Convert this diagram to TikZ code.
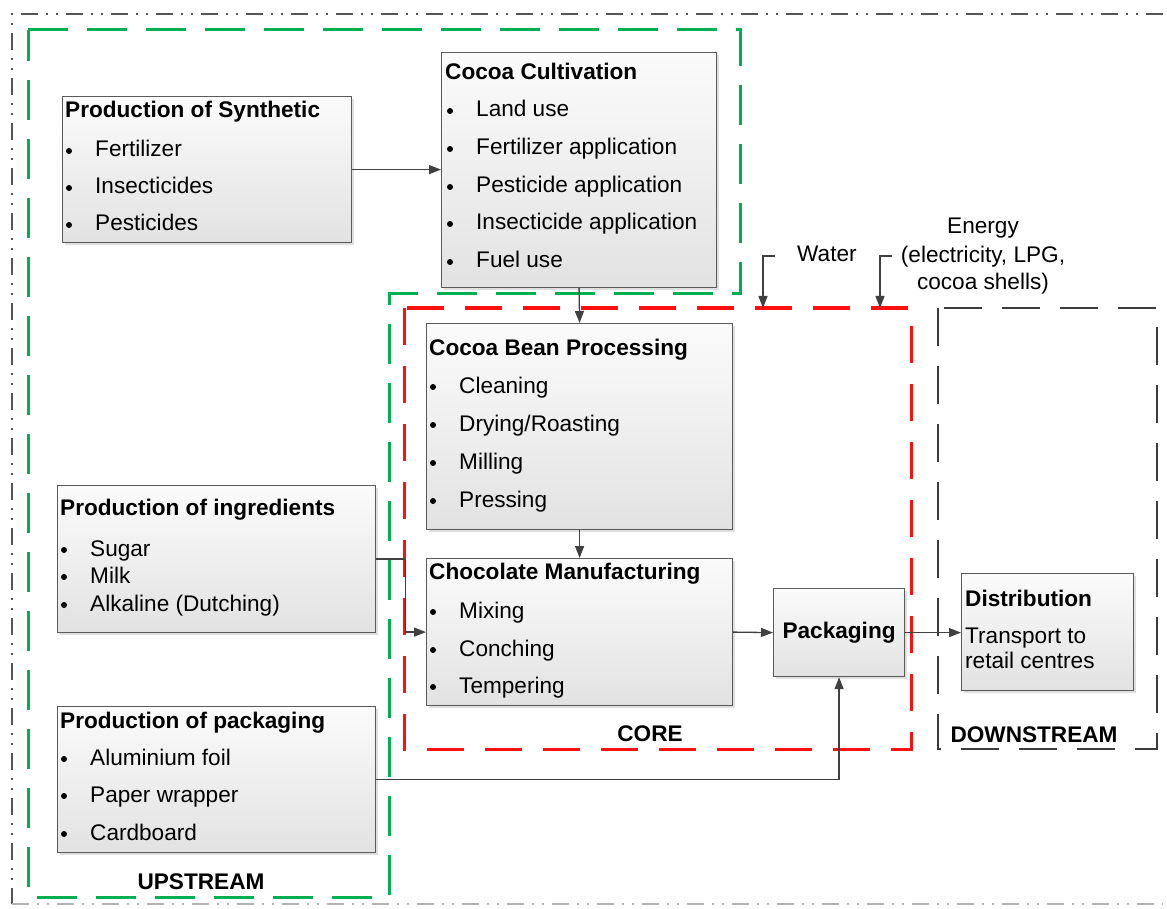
\documentclass[tikz,border=0pt]{standalone}
\usepackage{fontspec}
\setmainfont{Liberation Sans}
\usetikzlibrary{arrows.meta,shadows}
\definecolor{boxline}{HTML}{5A5A5A}
\definecolor{boxtop}{HTML}{FBFBFB}
\definecolor{boxbot}{HTML}{E2E2E2}
\definecolor{arrowc}{HTML}{404040}
\definecolor{upgreen}{HTML}{00B050}
\definecolor{corered}{HTML}{FF1010}
\definecolor{downgray}{HTML}{3C3C3C}
\definecolor{outergray}{HTML}{555555}
\tikzset{
  procbox/.style={draw=boxline, line width=1.2pt, top color=boxtop, bottom color=boxbot,
    drop shadow={shadow xshift=2pt,shadow yshift=-2pt,opacity=0.25},
    anchor=north west, inner sep=0pt},
  txt/.style={font=\fontsize{22.6}{27}\selectfont, inner sep=0pt, text=black},
  ttl/.style={font=\fontsize{22.6}{27}\selectfont\bfseries, inner sep=0pt, text=black},
  conn/.style={draw=arrowc, line width=1.3pt, -{Triangle[length=12pt,width=9pt]}},
  upline/.style={draw=upgreen, line width=3pt, dash pattern=on 40pt off 19pt},
  coreline/.style={draw=corered, line width=3pt, dash pattern=on 37pt off 21pt},
  downline/.style={draw=downgray, line width=2.6pt, dash pattern=on 38pt off 20pt},
  outerline/.style={draw=outergray, line width=1.8pt, dash pattern=on 17pt off 8pt on 2pt off 8pt on 2pt off 8pt},
}
\newcommand\bitem[4]{%
  \fill[black] (#2,#3-6) circle [radius=3pt];
  \node[txt, anchor=base west] (#1) at (#2+26,#3) {#4};}
\begin{document}
\begin{tikzpicture}[x=1pt,y=-1pt]
\useasboundingbox (0,0) rectangle (1167,909);
\fill[white] (0,0) rectangle (1167,909);

% boundaries
\draw[outerline] (1163,14) -- (12,14) -- (12,904);
\draw[outerline, draw=outergray!45] (12,904) -- (1163,904);
\draw[upline] (28,30) -- (740,30) -- (740,294) -- (389,294) -- (389,897) -- (28,897) -- cycle;
\draw[coreline] (404,308) rectangle (911,749);
\draw[downline] (938,308) rectangle (1157,749);

% boxes
\node[procbox, minimum width=289pt, minimum height=146pt] (syn) at (62,96) {};
\node[procbox, minimum width=275pt, minimum height=235pt] (cult) at (441,52) {};
\node[procbox, minimum width=306pt, minimum height=206pt] (bean) at (426,323) {};
\node[procbox, minimum width=306pt, minimum height=147pt] (choc) at (426,558) {};
\node[procbox, minimum width=318pt, minimum height=147pt] (ingr) at (57,485) {};
\node[procbox, minimum width=318pt, minimum height=146pt] (ppk) at (57,706) {};
\node[procbox, minimum width=131pt, minimum height=88pt, font=\fontsize{22.6}{27}\selectfont\bfseries] (pack) at (773,588) {Packaging};
\node[procbox, minimum width=172pt, minimum height=117pt] (dist) at (961,573) {};

% texts: synthetic
\node[ttl, anchor=base west] (synT) at (65,118) {Production of Synthetic};
\bitem{syn1}{69}{157}{Fertilizer}
\bitem{syn2}{69}{194}{Insecticides}
\bitem{syn3}{69}{231}{Pesticides}
% cultivation
\node[ttl, anchor=base west] (cultT) at (445,80) {Cocoa Cultivation};
\bitem{cult1}{450}{117}{Land use}
\bitem{cult2}{450}{155}{Fertilizer application}
\bitem{cult3}{450}{193}{Pesticide application}
\bitem{cult4}{450}{230}{Insecticide application}
\bitem{cult5}{450}{268}{Fuel use}
% bean processing
\node[ttl, anchor=base west] (beanT) at (429,355) {Cocoa Bean Processing};
\bitem{bean1}{433}{393}{Cleaning}
\bitem{bean2}{433}{431}{Drying/Roasting}
\bitem{bean3}{433}{469}{Milling}
\bitem{bean4}{433}{507}{Pressing}
% chocolate manufacturing
\node[ttl, anchor=base west] (chocT) at (429,579) {Chocolate Manufacturing};
\bitem{choc1}{433}{618}{Mixing}
\bitem{choc2}{433}{656}{Conching}
\bitem{choc3}{433}{693}{Tempering}
% ingredients
\node[ttl, anchor=base west] (ingrT) at (60,515) {Production of ingredients};
\bitem{ingr1}{64}{556}{Sugar}
\bitem{ingr2}{64}{583}{Milk}
\bitem{ingr3}{64}{611}{Alkaline (Dutching)}
% packaging production
\node[ttl, anchor=base west] (ppkT) at (60,728) {Production of packaging};
\bitem{ppk1}{64}{765}{Aluminium foil}
\bitem{ppk2}{64}{802}{Paper wrapper}
\bitem{ppk3}{64}{840}{Cardboard}
% distribution
\node[ttl, anchor=base west] (distT) at (965,606) {Distribution};
\node[txt, anchor=base west] (dist1) at (965,643) {Transport to};
\node[txt, anchor=base west] (dist2) at (965,668) {retail centres};

% boundary labels
\node[ttl, anchor=base] (upL) at (201,889) {UPSTREAM};
\node[ttl, anchor=base] (coreL) at (650,741) {CORE};
\node[ttl, anchor=base] (downL) at (1034,742) {DOWNSTREAM};

% inputs
\node[txt, anchor=base west] (water) at (797,262) {Water};
\node[txt, anchor=base] (en1) at (983,234) {Energy};
\node[txt, anchor=base] (en2) at (983,263) {(electricity, LPG,};
\node[txt, anchor=base] (en3) at (983,290) {cocoa shells)};
\coordinate (w0) at (775,256);
\coordinate (w1) at (763,308);
\coordinate (e0) at (892,256);
\coordinate (e1) at (880,308);
\draw[conn] (w0) -| (w1);
\draw[conn] (e0) -| (e1);

% connectors
\draw[conn] (syn.east) -- (syn.east -| cult.west);
\draw[conn] (cult.south) -- (bean.north);
\draw[conn] (bean.south) -- (choc.north);
\draw[conn] (ingr.east) -- ++(29,0) |- (choc.west);
\draw[conn] (choc.east) -- (pack.west);
\draw[conn] (pack.east) -- (pack.east -| dist.west);
\draw[conn] (ppk.east) -| (pack.south);
\end{tikzpicture}
\end{document}
